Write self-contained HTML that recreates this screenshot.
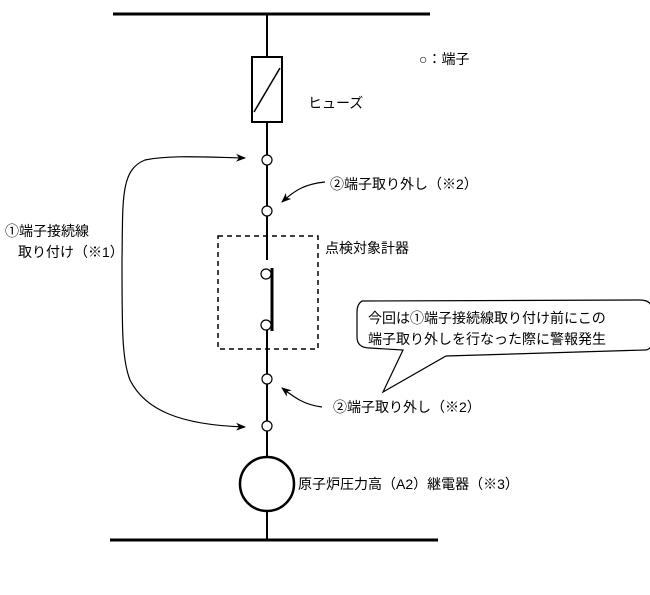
<!DOCTYPE html>
<html><head><meta charset="utf-8"><style>
body{margin:0;background:#fff;width:650px;height:590px;overflow:hidden}
svg text{font-family:"Liberation Sans","Noto Sans CJK JP",sans-serif;font-size:14px;fill:#000}
</style></head><body>
<svg width="650" height="590" viewBox="0 0 650 590" xmlns="http://www.w3.org/2000/svg">
<defs><marker id="a" markerWidth="10" markerHeight="8" refX="9" refY="4" orient="auto-start-reverse" markerUnits="userSpaceOnUse"><path d="M0,0 L10,4 L0,8 L3,4 Z" fill="#000"/></marker></defs>
<line x1="113" y1="14" x2="430" y2="14" stroke="#000" stroke-width="3"/>
<line x1="110" y1="540" x2="438" y2="540" stroke="#000" stroke-width="3"/>
<line x1="267" y1="14" x2="267" y2="540" stroke="#000" stroke-width="2"/>
<rect x="252" y="57" width="30" height="65" fill="#fff" stroke="#000" stroke-width="2"/>
<line x1="254" y1="112" x2="280" y2="68" stroke="#000" stroke-width="1.5"/>
<rect x="218" y="236" width="100" height="113" fill="none" stroke="#000" stroke-width="1.5" stroke-dasharray="5,4"/>
<line x1="272" y1="268" x2="272" y2="331" stroke="#000" stroke-width="3"/>
<rect x="265" y="260" width="4" height="70" fill="#fff"/>
<g fill="#fff" stroke="#000" stroke-width="1.2">
<circle cx="267" cy="160" r="5"/><circle cx="267" cy="211" r="5"/>
<circle cx="266" cy="274" r="5"/><circle cx="266" cy="325" r="5"/>
<circle cx="267" cy="379" r="5"/><circle cx="267" cy="426" r="5"/>
</g>
<circle cx="267" cy="484" r="27" fill="#fff" stroke="#000" stroke-width="2.5"/>
<path d="M245,158 C200,157 170,155 145,160 C120,170 123,200 122,260 C122,330 122,360 130,380 C145,410 180,425 245,427" fill="none" stroke="#000" stroke-width="1.2" marker-start="url(#a)" marker-end="url(#a)"/>
<path d="M325,182 C305,184 295,190 282,202" fill="none" stroke="#000" stroke-width="1.2" marker-end="url(#a)"/>
<path d="M322,407 C305,405 295,398 282,388" fill="none" stroke="#000" stroke-width="1.2" marker-end="url(#a)"/>
<path d="M362,301 Q357,304 357,312 L357,337 Q357,348 370,348 L403,350 L383,392 L446,356 L645,350 Q652,350 652,340 L652,310 Q652,300 640,300 Z" fill="#fff" stroke="#000" stroke-width="1.2"/>
<text x="419" y="64">○：端子</text>
<text x="308" y="108">ヒューズ</text>
<text x="330" y="189">②端子取り外し（※2）</text>
<text x="5" y="236">①端子接続線</text>
<text x="18" y="257">取り付け（※1）</text>
<text x="325" y="253">点検対象計器</text>
<text x="368" y="323">今回は①端子接続線取り付け前にこの</text>
<text x="368" y="344">端子取り外しを行なった際に警報発生</text>
<text x="333" y="412">②端子取り外し（※2）</text>
<text x="298" y="489">原子炉圧力高（A2）継電器（※3）</text>
</svg>
</body></html>
